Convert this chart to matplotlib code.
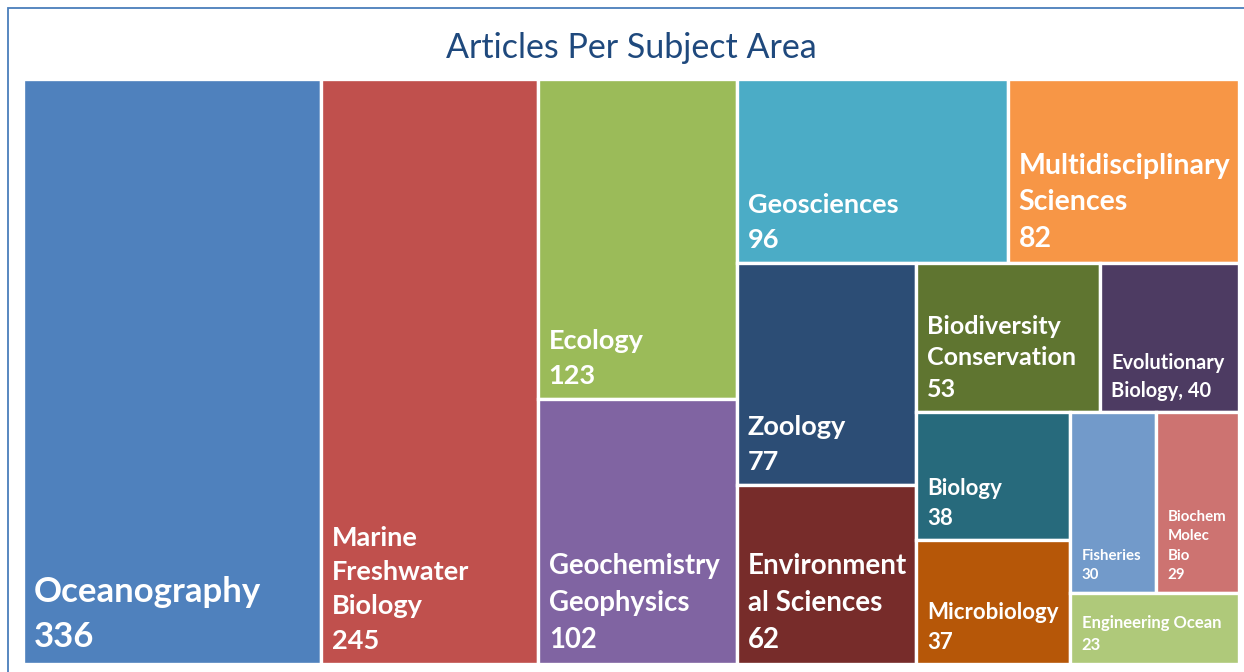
import matplotlib.pyplot as plt
from matplotlib.patches import Rectangle

# Data
categories = ["Oceanography", "Marine\nFreshwater\nBiology", "Ecology",
              "Geochemistry\nGeophysics", "Geosciences", "Multidisciplinary\nSciences",
              "Zoology", "Environment\nal Sciences", "Biodiversity\nConservation",
              "Evolutionary\nBiology", "Biology", "Microbiology", "Fisheries",
              "Biochem\nMolec\nBio", "Engineering Ocean"]
values = [336, 245, 123, 102, 96, 82, 77, 62, 53, 40, 38, 37, 30, 29, 23]
separators = ["\n"] * 9 + [", "] + ["\n"] * 5
title = "Articles Per Subject Area"

colors = ["#4F81BD", "#C0504D", "#9BBB59", "#8064A2", "#4BACC6", "#F79646",
          "#2C4D75", "#772C2A", "#5F7530", "#4D3B62", "#276A7C", "#B65708",
          "#729ACA", "#CD7371", "#AFC97A"]
font_sizes = [25, 19.5, 19.5, 19.8, 19.5, 20.5, 19.5, 20, 18, 14.4, 16, 16, 10.8, 10.8, 12]
line_sp = [1.48, 1.52, 1.52, 1.52, 1.52, 1.5, 1.52, 1.52, 1.45, 1.5, 1.5, 1.5, 1.5, 1.5, 1.45]

# Excel-like grouping: each group is laid as a strip along the shorter side
groups = [[0], [1], [2, 3], [4, 5], [6, 7], [8, 9], [10, 11], [12, 13], [14]]


def layout(vals, groups, x, y, w, h):
    rects = {}
    remaining = float(sum(vals))
    for g in groups:
        gsum = float(sum(vals[i] for i in g))
        frac = gsum / remaining
        if w >= h:
            gw = w * frac
            yy = y
            for i in g:
                ih = h * vals[i] / gsum
                rects[i] = (x, yy, gw, ih)
                yy += ih
            x += gw
            w -= gw
        else:
            gh = h * frac
            xx = x
            for i in g:
                iw = w * vals[i] / gsum
                rects[i] = (xx, y, iw, gh)
                xx += iw
            y += gh
            h -= gh
        remaining -= gsum
    return rects


W, H = 1216, 585
fig = plt.figure(figsize=(12.44, 6.72), dpi=100)
fig.patch.set_facecolor("white")
ax = fig.add_axes([23 / 1244, 1 - 664 / 672, W / 1244, H / 672])
ax.set_xlim(0, W)
ax.set_ylim(H, 0)
ax.axis("off")

rects = layout(values, groups, 0, 0, W, H)
for i, name in enumerate(categories):
    x, y, w, h = rects[i]
    ax.add_patch(Rectangle((x, y), w, h, facecolor=colors[i],
                           edgecolor="white", linewidth=2.4))
    ax.annotate(f"{name}{separators[i]}{values[i]}", xy=(x, y + h),
                xytext=(8, 8), textcoords="offset points",
                ha="left", va="bottom", color="white", fontweight="bold",
                fontsize=font_sizes[i], family="Lato", linespacing=line_sp[i])

fig.text(631 / 1244, 1 - 58 / 672, title, ha="center", va="baseline",
         fontsize=24.5, color="#1F497D", family="Lato")

# chart area border
fig.add_artist(Rectangle((8 / 1244, -0.05), 1.1, 1.05 - 8 / 672,
                         transform=fig.transFigure, fill=False,
                         edgecolor="#4A7EBB", linewidth=1.3, clip_on=False))

fig.savefig("out.png", dpi=100)
